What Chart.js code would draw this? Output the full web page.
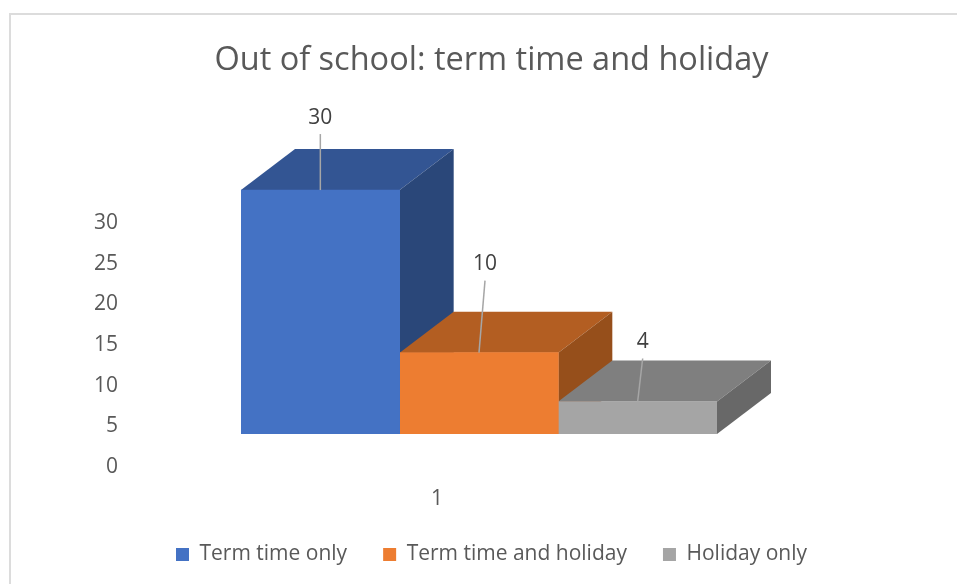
<!DOCTYPE html>
<html>
<head>
<meta charset="utf-8">
<title>Out of school: term time and holiday</title>
<script src="https://cdn.jsdelivr.net/npm/chart.js@4"></script>
<style>
    html, body { margin: 0; padding: 0; background: #fff; overflow: hidden; }
    #wrap { position: relative; width: 957px; height: 584px; }
    #frame { position: absolute; left: 9px; top: 13px; right: 0; bottom: 0; border-left: 2px solid #dcdcdc; border-top: 2px solid #dcdcdc; pointer-events: none; }
</style>
</head>
<body>
<div id="wrap">
    <canvas id="schoolChart" width="957" height="584"></canvas>
    <div id="frame"></div>
</div>
<script>
const categories = ["1"];
const seriesNames = ["Term time only", "Term time and holiday", "Holiday only"];
const seriesValues = [[30], [10], [4]];
const frontColors = ["#4472c4", "#ed7d31", "#a5a5a5"];
const topColors = ["#335593", "#b35e22", "#7f7f7f"];
const sideColors = ["#2a4779", "#964f1b", "#686868"];

const FONT = '"Open Sans", sans-serif';
const DEPTH_X = 54;
const DEPTH_Y = 41;
// where each data label and its leader line sit, relative to the top centre of the bar
const labelSpots = [
    { lineX: 0, lineY: -56, textX: 0, textY: -72 },
    { lineX: 6, lineY: -72, textX: 6, textY: -89 },
    { lineX: 5, lineY: -43, textX: 5, textY: -59 }
];

function fillFace(ctx, color, pts) {
    ctx.fillStyle = color;
    ctx.beginPath();
    ctx.moveTo(pts[0][0], pts[0][1]);
    pts.slice(1).forEach(p => ctx.lineTo(p[0], p[1]));
    ctx.closePath();
    ctx.fill();
}

// top and right faces of the 3D boxes, painted behind the bars
const boxFaces = {
    id: 'boxFaces',
    beforeDatasetsDraw(chart) {
        const ctx = chart.ctx;
        seriesValues.forEach((values, i) => {
            const bar = chart.getDatasetMeta(i).data[0];
            const left = bar.x - bar.width / 2;
            const right = bar.x + bar.width / 2;
            fillFace(ctx, topColors[i], [[left, bar.y], [right, bar.y], [right + DEPTH_X, bar.y - DEPTH_Y], [left + DEPTH_X, bar.y - DEPTH_Y]]);
            fillFace(ctx, sideColors[i], [[right, bar.y], [right + DEPTH_X, bar.y - DEPTH_Y], [right + DEPTH_X, bar.base - DEPTH_Y], [right, bar.base]]);
        });
    }
};

// data labels with leader lines
const leaderLabels = {
    id: 'leaderLabels',
    afterDatasetsDraw(chart) {
        const ctx = chart.ctx;
        seriesValues.forEach((values, i) => {
            const bar = chart.getDatasetMeta(i).data[0];
            const spot = labelSpots[i];
            ctx.save();
            ctx.strokeStyle = "#a6a6a6";
            ctx.lineWidth = 1.5;
            ctx.beginPath();
            ctx.moveTo(bar.x, bar.y);
            ctx.lineTo(bar.x + spot.lineX, bar.y + spot.lineY);
            ctx.stroke();
            ctx.fillStyle = "#404040";
            ctx.font = '21px ' + FONT;
            ctx.textAlign = "center";
            ctx.textBaseline = "middle";
            ctx.fillText(String(values[0]), bar.x + spot.textX, bar.y + spot.textY);
            ctx.restore();
        });
    }
};

new Chart(document.getElementById("schoolChart").getContext("2d"), {
    type: "bar",
    data: {
        labels: categories,
        datasets: seriesNames.map((name, i) => ({
            label: name,
            data: seriesValues[i],
            backgroundColor: frontColors[i],
            borderWidth: 0,
            categoryPercentage: 1,
            barPercentage: 1
        }))
    },
    options: {
        responsive: false,
        animation: false,
        layout: { padding: { left: 26, bottom: 9 } },
        plugins: {
            tooltip: { enabled: false },
            title: {
                display: true,
                text: "Out of school: term time and holiday",
                color: "#595959",
                font: { family: FONT, size: 32.5, weight: "normal" },
                padding: { top: 41, bottom: 69.4 }
            },
            legend: {
                position: "bottom",
                labels: {
                    color: "#595959",
                    font: { family: FONT, size: 21 },
                    boxWidth: 13,
                    boxHeight: 13,
                    padding: 36
                }
            }
        },
        scales: {
            x: {
                grid: { display: false, drawTicks: false },
                border: { display: false },
                ticks: { color: "#595959", font: { family: FONT, size: 21 }, padding: 52, labelOffset: -42, maxRotation: 0 },
                afterFit(scale) { scale.height = 74; }
            },
            y: {
                min: 0,
                max: 35,
                grid: { display: false, drawTicks: false },
                border: { display: false },
                ticks: { stepSize: 5, color: "#595959", font: { family: FONT, size: 21 }, padding: 123, labelOffset: 33 },
                afterBuildTicks(scale) { scale.ticks = scale.ticks.filter(t => t.value <= 30); },
                afterFit(scale) { scale.width = 215; }
            },
            spacer: {
                position: "right",
                grid: { display: false, drawTicks: false },
                border: { display: false },
                ticks: { display: false },
                afterFit(scale) { scale.width = 240; }
            }
        }
    },
    plugins: [boxFaces, leaderLabels]
});
</script>
</body>
</html>
